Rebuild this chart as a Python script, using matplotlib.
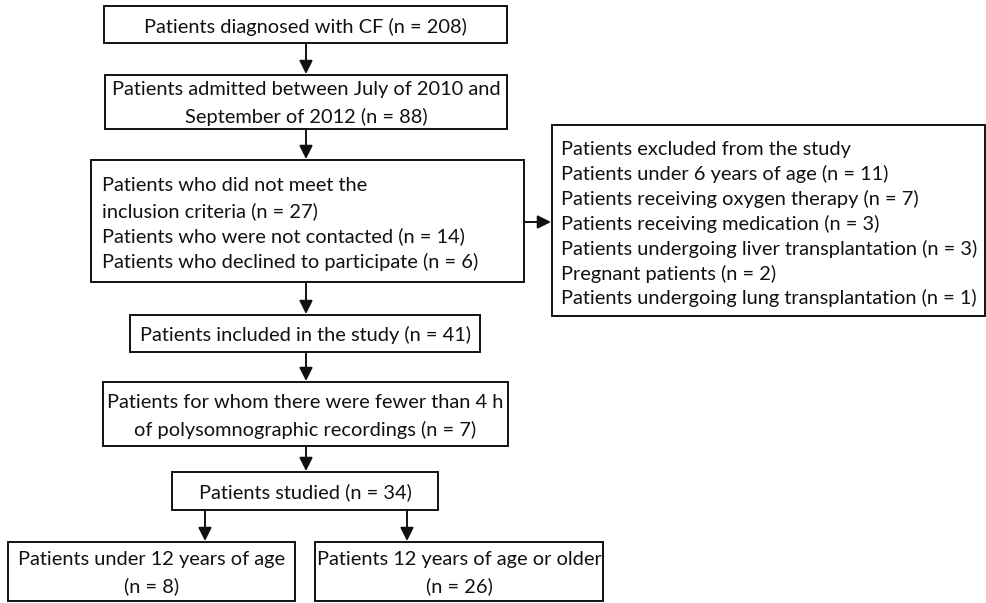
import matplotlib
matplotlib.use("Agg")
import matplotlib.pyplot as plt
from matplotlib.patches import Rectangle, FancyArrowPatch

plt.rcParams['font.family'] = ['Lato', 'DejaVu Sans']

# ---- data: box texts ----
box1_lines = ["Patients diagnosed with CF (n = 208)"]
box2_lines = ["Patients admitted between July of 2010 and",
              "September of 2012 (n = 88)"]
box3_lines = ["Patients who did not meet the",
              "inclusion criteria (n = 27)",
              "Patients who were not contacted (n = 14)",
              "Patients who declined to participate (n = 6)"]
excl_lines = ["Patients excluded from the study",
              "Patients under 6 years of age (n = 11)",
              "Patients receiving oxygen therapy (n = 7)",
              "Patients receiving medication (n = 3)",
              "Patients undergoing liver transplantation (n = 3)",
              "Pregnant patients (n = 2)",
              "Patients undergoing lung transplantation (n = 1)"]
box4_lines = ["Patients included in the study (n = 41)"]
box5_lines = ["Patients for whom there were fewer than 4 h",
              "of polysomnographic recordings (n = 7)"]
box6_lines = ["Patients studied (n = 34)"]
box7_lines = ["Patients under 12 years of age", "(n = 8)"]
box8_lines = ["Patients 12 years of age or older", "(n = 26)"]

# ---- layout (pixels) ----
W, H = 987, 603
fig = plt.figure(figsize=(W / 100, H / 100), dpi=100)
ax = fig.add_axes([0, 0, 1, 1])
ax.set_xlim(0, W)
ax.set_ylim(H, 0)
ax.axis('off')

FS = 14.4
LW = 1.4

def box(x0, x1, y0, y1, lines, ly0, step, align='center', tx=None):
    ax.add_patch(Rectangle((x0, y0), x1 - x0, y1 - y0, fill=False,
                           edgecolor='#111111', linewidth=LW))
    if tx is None:
        tx = (x0 + x1) / 2
    for i, t in enumerate(lines):
        ax.text(tx, ly0 + i * step, t, ha=align, va='center_baseline',
                fontsize=FS, color='#111111')

def arrow(x0, y0, x1, y1):
    ax.add_patch(FancyArrowPatch((x0, y0), (x1, y1), arrowstyle='-|>',
                                 mutation_scale=20, linewidth=LW,
                                 color='#111111', shrinkA=0, shrinkB=0))

cx = 306
box(104, 507, 6, 43, box1_lines, 25, 27)
arrow(cx, 43, cx, 74)
box(105, 507, 75, 129, box2_lines, 88, 27)
arrow(cx, 129, cx, 159)
box(91, 524, 160, 282, box3_lines, 184, 25.5, align='left', tx=102)
arrow(524, 222, 551, 222)
box(552, 985, 125, 316, excl_lines, 148, 24.8, align='left', tx=561)
arrow(cx, 282, cx, 314)
box(130, 480, 315, 352, box4_lines, 333, 27)
arrow(cx, 352, cx, 381)
box(103, 508, 382, 446, box5_lines, 401, 27)
arrow(cx, 446, cx, 471)
box(172, 438, 472, 510, box6_lines, 491, 27)
arrow(205, 510, 205, 541)
arrow(407, 510, 407, 541)
box(8, 295, 542, 601, box7_lines, 558, 27)
box(315, 603, 542, 601, box8_lines, 558, 27)

fig.savefig("out.png", dpi=100)
